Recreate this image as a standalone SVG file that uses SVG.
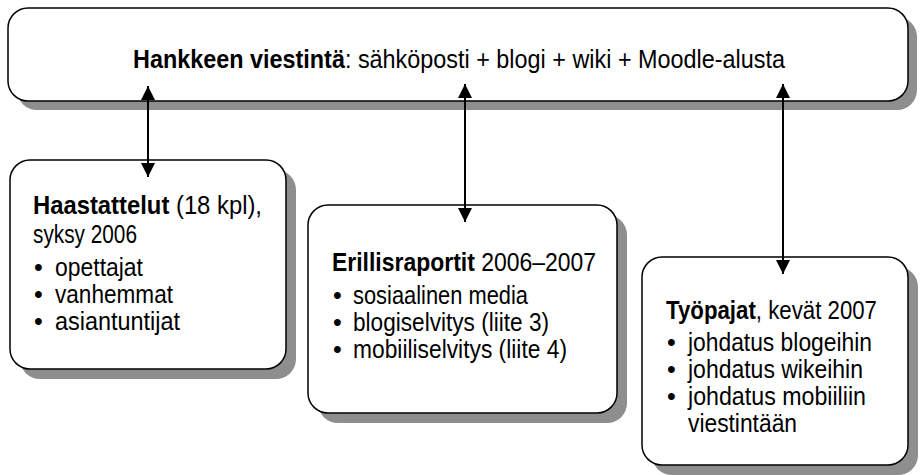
<svg xmlns="http://www.w3.org/2000/svg" width="920" height="475" viewBox="0 0 920 475">
<defs>
<marker id="ah" viewBox="0 0 14 14" refX="14" refY="7" markerWidth="14" markerHeight="14" markerUnits="userSpaceOnUse" orient="auto-start-reverse">
<path d="M0,0 L14,7 L0,14 z" fill="#000"/>
</marker>
</defs>
<style>
.sh{fill:#8e8e8e}
.bx{fill:#fff;stroke:#000;stroke-width:1.5}
text{font-family:"Liberation Sans",Arial,sans-serif;font-size:25px;fill:#000}
.b{font-weight:bold}
.cn{stroke:#000;stroke-width:2;fill:none}
</style>
<rect width="920" height="475" fill="#fff"/>
<g id="top">
<rect class="sh" x="17" y="17" width="900" height="93" rx="20"/>
<rect class="bx" x="8" y="8" width="900" height="93" rx="20"/>
<text x="133" y="68" textLength="652" lengthAdjust="spacingAndGlyphs"><tspan class="b">Hankkeen viestintä</tspan>: sähköposti + blogi + wiki + Moodle-alusta</text>
</g>
<g id="haastattelut">
<rect class="sh" x="20" y="170" width="276" height="209" rx="20"/>
<rect class="bx" x="10" y="160" width="276" height="209" rx="20"/>
<text x="33" y="214" textLength="229" lengthAdjust="spacingAndGlyphs"><tspan class="b">Haastattelut</tspan> (18 kpl),</text>
<text x="33" y="243" textLength="104" lengthAdjust="spacingAndGlyphs">syksy 2006</text>
<text x="34" y="276">•</text><text x="55" y="276" textLength="88" lengthAdjust="spacingAndGlyphs">opettajat</text>
<text x="34" y="303">•</text><text x="55" y="303" textLength="118" lengthAdjust="spacingAndGlyphs">vanhemmat</text>
<text x="34" y="330">•</text><text x="55" y="330" textLength="125" lengthAdjust="spacingAndGlyphs">asiantuntijat</text>
</g>
<g id="erillisraportit">
<rect class="sh" x="318" y="215" width="309" height="208" rx="20"/>
<rect class="bx" x="308" y="205" width="309" height="208" rx="20"/>
<text x="332" y="271" textLength="264" lengthAdjust="spacingAndGlyphs"><tspan class="b">Erillisraportit</tspan> 2006–2007</text>
<text x="333" y="304">•</text><text x="353" y="304" textLength="175" lengthAdjust="spacingAndGlyphs">sosiaalinen media</text>
<text x="333" y="331">•</text><text x="353" y="331" textLength="196" lengthAdjust="spacingAndGlyphs">blogiselvitys (liite 3)</text>
<text x="333" y="358">•</text><text x="353" y="358" textLength="214" lengthAdjust="spacingAndGlyphs">mobiiliselvitys (liite 4)</text>
</g>
<g id="tyopajat">
<rect class="sh" x="652" y="267" width="266" height="208" rx="20"/>
<rect class="bx" x="642" y="257" width="266" height="208" rx="20"/>
<text x="666" y="319" textLength="211" lengthAdjust="spacingAndGlyphs"><tspan class="b">Työpajat</tspan>, kevät 2007</text>
<text x="667" y="351">•</text><text x="688" y="351" textLength="184" lengthAdjust="spacingAndGlyphs">johdatus blogeihin</text>
<text x="667" y="378">•</text><text x="688" y="378" textLength="175" lengthAdjust="spacingAndGlyphs">johdatus wikeihin</text>
<text x="667" y="405">•</text><text x="688" y="405" textLength="178" lengthAdjust="spacingAndGlyphs">johdatus mobiiliin</text>
<text x="688" y="432" textLength="109" lengthAdjust="spacingAndGlyphs">viestintään</text>
</g>
<g id="connectors">
<line class="cn" x1="148" y1="86" x2="148" y2="177" marker-start="url(#ah)" marker-end="url(#ah)"/>
<line class="cn" x1="465" y1="84" x2="465" y2="222" marker-start="url(#ah)" marker-end="url(#ah)"/>
<line class="cn" x1="783" y1="84" x2="783" y2="274" marker-start="url(#ah)" marker-end="url(#ah)"/>
</g>
</svg>
